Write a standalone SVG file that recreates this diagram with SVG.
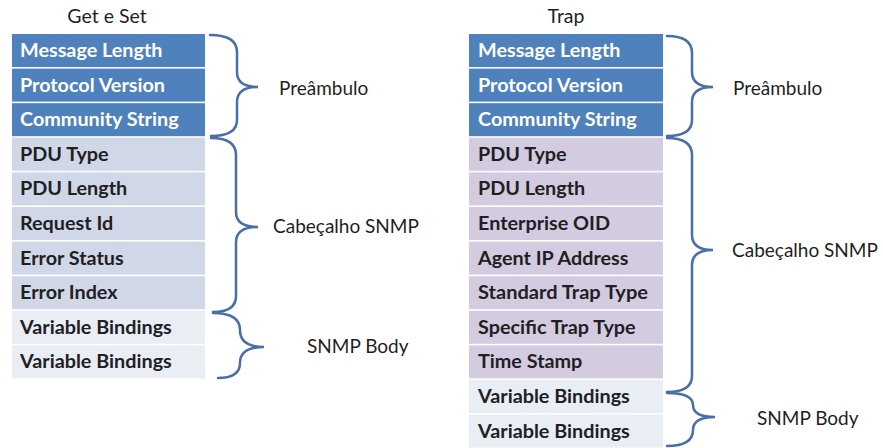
<svg xmlns="http://www.w3.org/2000/svg" width="883" height="448" viewBox="0 0 883 448">
  <style>
    .title { font-family: Lato, "Liberation Sans", sans-serif; font-size: 19.5px; fill: #1f1f1f; text-anchor: middle; }
    .lbl { font-family: Lato, "Liberation Sans", sans-serif; font-size: 19px; fill: #1f1f1f; }
    .cell text { font-family: Lato, "Liberation Sans", sans-serif; font-size: 19.8px; font-weight: bold; }
    .hdr rect { fill: #4f81bd; }
    .hdr text { fill: #ffffff; }
    .pdu rect { fill: #d0d8e8; }
    .trap rect { fill: #d3cbe0; }
    .body rect { fill: #e9edf4; }
    .pdu text, .trap text, .body text { fill: #1f2024; }
    .brace { fill: none; stroke: #4a6ea8; stroke-width: 2.5; stroke-linecap: round; }
  </style>
  <rect width="883" height="448" fill="#ffffff"/>

  <!-- Get / Set message layout -->
  <text class="title" x="107" y="23">Get e Set</text>
  <g id="gs-message-length" class="cell hdr"><rect x="12" y="34" width="193" height="33"/><text x="20" y="57">Message Length</text></g>
  <g id="gs-protocol-version" class="cell hdr"><rect x="12" y="68.6" width="193" height="33"/><text x="20" y="91.6">Protocol Version</text></g>
  <g id="gs-community-string" class="cell hdr"><rect x="12" y="103.2" width="193" height="33"/><text x="20" y="126.2">Community String</text></g>
  <g id="gs-pdu-type" class="cell pdu"><rect x="12" y="137.8" width="193" height="33"/><text x="20" y="160.8">PDU Type</text></g>
  <g id="gs-pdu-length" class="cell pdu"><rect x="12" y="172.4" width="193" height="33"/><text x="20" y="195.4">PDU Length</text></g>
  <g id="gs-request-id" class="cell pdu"><rect x="12" y="207" width="193" height="33"/><text x="20" y="230">Request Id</text></g>
  <g id="gs-error-status" class="cell pdu"><rect x="12" y="241.6" width="193" height="33"/><text x="20" y="264.6">Error Status</text></g>
  <g id="gs-error-index" class="cell pdu"><rect x="12" y="276.2" width="193" height="33"/><text x="20" y="299.2">Error Index</text></g>
  <g id="gs-varbind-1" class="cell body"><rect x="12" y="310.8" width="193" height="33"/><text x="20" y="333.8">Variable Bindings</text></g>
  <g id="gs-varbind-2" class="cell body"><rect x="12" y="345.4" width="193" height="33"/><text x="20" y="368.4">Variable Bindings</text></g>

  <!-- Trap message layout -->
  <text class="title" x="566" y="23">Trap</text>
  <g id="tr-message-length" class="cell hdr"><rect x="469" y="34" width="194" height="33"/><text x="478" y="57">Message Length</text></g>
  <g id="tr-protocol-version" class="cell hdr"><rect x="469" y="68.6" width="194" height="33"/><text x="478" y="91.6">Protocol Version</text></g>
  <g id="tr-community-string" class="cell hdr"><rect x="469" y="103.2" width="194" height="33"/><text x="478" y="126.2">Community String</text></g>
  <g id="tr-pdu-type" class="cell trap"><rect x="469" y="137.8" width="194" height="33"/><text x="478" y="160.8">PDU Type</text></g>
  <g id="tr-pdu-length" class="cell trap"><rect x="469" y="172.4" width="194" height="33"/><text x="478" y="195.4">PDU Length</text></g>
  <g id="tr-enterprise-oid" class="cell trap"><rect x="469" y="207" width="194" height="33"/><text x="478" y="230">Enterprise OID</text></g>
  <g id="tr-agent-ip" class="cell trap"><rect x="469" y="241.6" width="194" height="33"/><text x="478" y="264.6">Agent IP Address</text></g>
  <g id="tr-standard-trap" class="cell trap"><rect x="469" y="276.2" width="194" height="33"/><text x="478" y="299.2" textLength="170" lengthAdjust="spacingAndGlyphs">Standard Trap Type</text></g>
  <g id="tr-specific-trap" class="cell trap"><rect x="469" y="310.8" width="194" height="33"/><text x="478" y="333.8">Specific Trap Type</text></g>
  <g id="tr-time-stamp" class="cell trap"><rect x="469" y="345.4" width="194" height="33"/><text x="478" y="368.4">Time Stamp</text></g>
  <g id="tr-varbind-1" class="cell body"><rect x="469" y="380" width="194" height="33"/><text x="478" y="403">Variable Bindings</text></g>
  <g id="tr-varbind-2" class="cell body"><rect x="469" y="414.6" width="194" height="33"/><text x="478" y="437.6">Variable Bindings</text></g>

  <!-- grouping braces -->
  <g id="braces">
    <path class="brace" d="M210 35 Q237 35 237 52 L237 72 Q237 87 258 87 Q237 87 237 102 L237 120 Q237 136 211 136"/>
    <path class="brace" d="M211 138 Q236 138 236 155 L236 212 Q236 227 258 227 Q236 227 236 242 L236 296 Q236 312 213 312"/>
    <path class="brace" d="M213 313 Q240 313 240 330 Q240 347 264 347 Q240 347 240 363 Q240 378 218 378"/>
    <path class="brace" d="M667 36 Q692 36 692 53 L692 72 Q692 87 713 87 Q692 87 692 102 L692 120 Q692 136 667 136"/>
    <path class="brace" d="M667 138 Q692 138 692 155 L692 235 Q692 250 713 250 Q692 250 692 265 L692 376 Q692 392 667 392"/>
    <path class="brace" d="M667 393 Q693 393 693 405 Q693 417 715 417 Q693 417 693 430 Q693 446 667 446"/>
  </g>

  <!-- section labels -->
  <text id="gs-preambulo" class="lbl" x="279" y="95">Preâmbulo</text>
  <text id="gs-cabecalho" class="lbl" x="273" y="233">Cabeçalho SNMP</text>
  <text id="gs-body" class="lbl" x="307" y="353">SNMP Body</text>
  <text id="tr-preambulo" class="lbl" x="733" y="95">Preâmbulo</text>
  <text id="tr-cabecalho" class="lbl" x="732" y="257">Cabeçalho SNMP</text>
  <text id="tr-body" class="lbl" x="757" y="425">SNMP Body</text>
</svg>
